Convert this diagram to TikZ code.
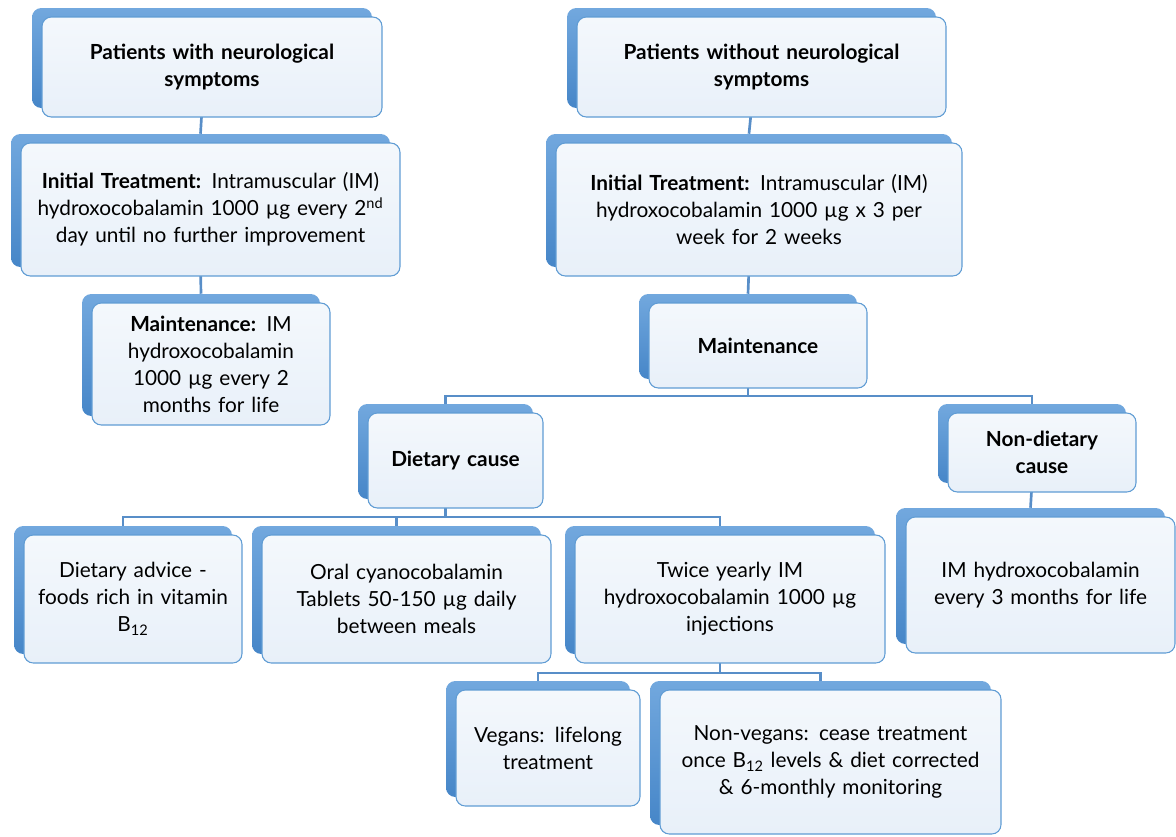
\documentclass[tikz,border=0pt]{standalone}
\usepackage{fontspec}
\setmainfont{Lato}
\usetikzlibrary{backgrounds}
\definecolor{backtop}{RGB}{114,168,222}
\definecolor{backbot}{RGB}{70,134,200}
\definecolor{fronttop}{RGB}{244,248,252}
\definecolor{frontbot}{RGB}{232,240,249}
\definecolor{frontline}{RGB}{96,156,212}
\definecolor{connc}{RGB}{88,142,200}
\tikzset{
 backbox/.style={rectangle, rounded corners=7pt, top color=backtop, bottom color=backbot, draw=none, inner sep=0pt},
 frontbox/.style={rectangle, rounded corners=7pt, top color=fronttop, bottom color=frontbot, draw=frontline, line width=0.8pt, inner sep=0pt, align=center, font=\fontsize{15.6}{20.2}\selectfont},
 conn/.style={draw=connc, line width=2pt}
}
\newcommand\mybox[6]{%
 \pgfmathsetmacro\bw{(#4-#2)*0.75}%
 \pgfmathsetmacro\bh{(#5-#3)*0.75}%
 \pgfmathsetmacro\tw{\bw-8}%
 \node[backbox, minimum width=\bw pt, minimum height=\bh pt] (#1b) at ({(#2+#4)/2-10},{(#3+#5)/2-9}) {};
 \node[frontbox, minimum width=\bw pt, minimum height=\bh pt, text width=\tw pt] (#1) at ({(#2+#4)/2},{(#3+#5)/2}) {#6};
}
\begin{document}
\begin{tikzpicture}[x=0.75pt,y=-0.75pt]
\useasboundingbox (0,0) rectangle (1176,836);
\mybox{Lone}{42}{17}{382}{117}{\textbf{Patients with neurological}\\\textbf{symptoms}}
\mybox{Ltwo}{21}{143}{400}{276}{\textbf{Initial Treatment:} Intramuscular (IM)\\hydroxocobalamin 1000 µg every 2\textsuperscript{nd}\\day until no further improvement}
\mybox{Lthree}{92}{303}{330}{425}{\textbf{Maintenance:} IM\\hydroxocobalamin\\1000 µg every 2\\months for life}
\mybox{Rone}{577}{17}{946}{117}{\textbf{Patients without neurological}\\\textbf{symptoms}}
\mybox{Rtwo}{556}{143}{962}{276}{\textbf{Initial Treatment:} Intramuscular (IM)\\hydroxocobalamin 1000 µg x 3 per\\week for 2 weeks}
\mybox{M}{649}{303}{867}{388}{\textbf{Maintenance}}
\mybox{D}{368}{413}{543}{508}{\textbf{Dietary cause}}
\mybox{ND}{948}{413}{1136}{492}{\textbf{Non-dietary}\\\textbf{cause}}
\mybox{IMt}{906}{517}{1175}{653}{IM hydroxocobalamin\\every 3 months for life}
\mybox{DA}{24}{535}{242}{663}{Dietary advice -\\foods rich in vitamin\\B\textsubscript{12}}
\mybox{OC}{262}{535}{551}{663}{Oral cyanocobalamin\\Tablets 50-150 µg daily\\between meals}
\mybox{TY}{575}{535}{885}{663}{Twice yearly IM\\hydroxocobalamin 1000 µg\\injections}
\mybox{V}{456}{690}{640}{806}{Vegans: lifelong\\treatment}
\mybox{NV}{660}{690}{1001}{834}{Non-vegans: cease treatment\\once B\textsubscript{12} levels \& diet corrected\\\& 6-monthly monitoring}
\coordinate (busM) at (748,396);
\coordinate (busD) at (445,517);
\coordinate (busT) at (720,673);
\begin{pgfonlayer}{background}
\draw[conn] (Loneb.south) -- (Ltwob.north);
\draw[conn] (Ltwob.south) -- (Lthreeb.north);
\draw[conn] (Roneb.south) -- (Rtwob.north);
\draw[conn] (Rtwob.south) -- (Mb.north);
\draw[conn] (Mb.south) -- (Mb.south |- busM) -| (Db.north);
\draw[conn] (Mb.south |- busM) -| (NDb.north);
\draw[conn] (Db.south) -- (Db.south |- busD) -| (DAb.north);
\draw[conn] (Db.south |- busD) -| (OCb.north);
\draw[conn] (Db.south |- busD) -| (TYb.north);
\draw[conn] (NDb.south) -- (IMtb.north);
\draw[conn] (TYb.south) -- (TYb.south |- busT) -| (Vb.north);
\draw[conn] (TYb.south |- busT) -| (NVb.north);
\end{pgfonlayer}
\end{tikzpicture}
\end{document}
